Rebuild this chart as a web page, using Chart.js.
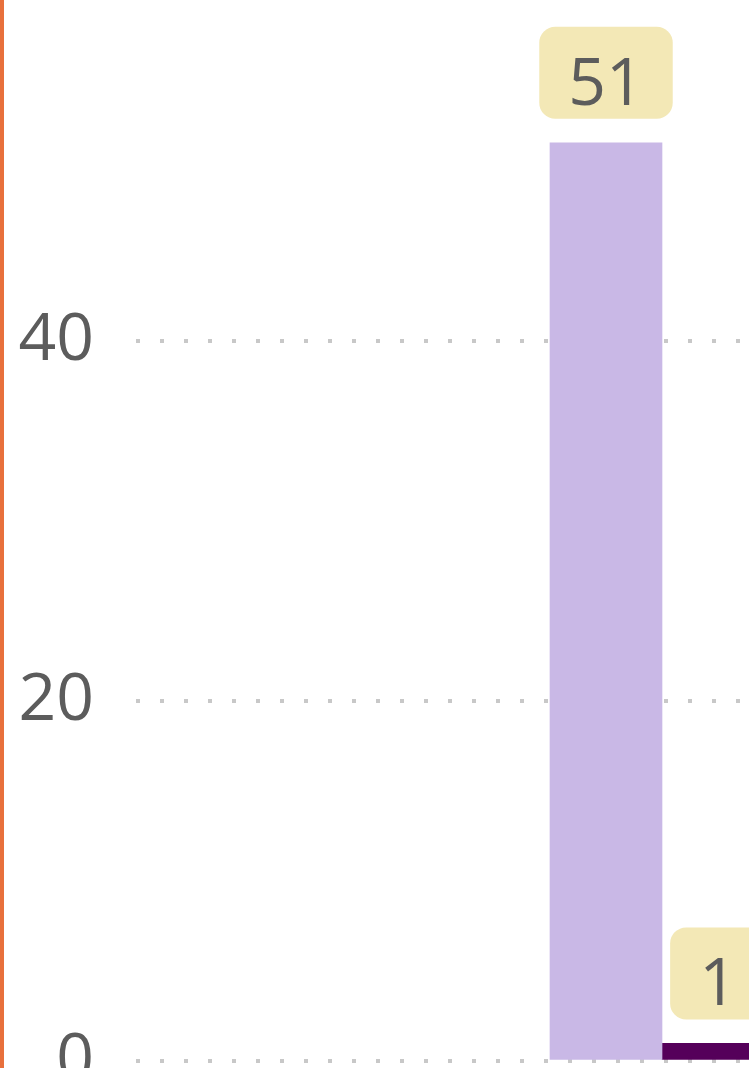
<!DOCTYPE html>
<html>
<head>
<meta charset="utf-8">
<script src="https://cdn.jsdelivr.net/npm/chart.js@4"></script>
<style>
  html, body { margin: 0; padding: 0; background: #fff; overflow: hidden; width: 749px; height: 1068px; }
  .edge { position: absolute; left: 0; top: 0; width: 4px; height: 1068px; background: #E8703C; z-index: 2; }
  .wrap { position: absolute; left: 0; top: -101px; width: 1188px; height: 1244px; }
</style>
</head>
<body>
<div class="edge"></div>
<div class="wrap"><canvas id="countChart"></canvas></div>
<script>
  const categories = [''];
  const seriesNames = ['A', 'B'];
  const seriesA = [51];
  const seriesB = [1];
  const seriesColors = ['#C9B8E6', '#55005A'];
  const yTicks = [0, 20, 40];

  const textColor = '#5c5c5c';
  const fontFamily = '"Open Sans", "Noto Sans", sans-serif';

  // value badges above each bar
  const valueBadges = {
    id: 'valueBadges',
    afterDatasetsDraw(chart) {
      const ctx = chart.ctx;
      ctx.save();
      ctx.font = '66px ' + fontFamily;
      chart.data.datasets.forEach((ds, di) => {
        const meta = chart.getDatasetMeta(di);
        meta.data.forEach((bar, i) => {
          const text = String(ds.data[i]);
          const w = ctx.measureText(text).width + 58;
          const h = 92;
          const bottom = bar.y - 24;
          ctx.fillStyle = '#F3E8B6';
          ctx.beginPath();
          ctx.roundRect(bar.x - w / 2, bottom - h, w, h, 16);
          ctx.fill();
          ctx.fillStyle = textColor;
          ctx.textAlign = 'center';
          ctx.textBaseline = 'alphabetic';
          ctx.fillText(text, bar.x, bottom - 14);
        });
      });
      ctx.restore();
    }
  };

  new Chart(document.getElementById('countChart'), {
    type: 'bar',
    data: {
      labels: categories,
      datasets: [
        { label: seriesNames[0], data: seriesA, backgroundColor: seriesColors[0], borderWidth: 0, barThickness: 112 },
        { label: seriesNames[1], data: seriesB, backgroundColor: seriesColors[1], borderWidth: 0, barThickness: 112 },
      ],
    },
    options: {
      responsive: true,
      maintainAspectRatio: false,
      animation: false,
      layout: { padding: { top: 0, right: 0, bottom: 50, left: 0 } },
      plugins: { legend: { display: false }, tooltip: { enabled: false } },
      scales: {
        x: { display: false },
        y: {
          min: 0,
          max: 60,
          afterFit(scale) { scale.width = 136; },
          afterBuildTicks(scale) { scale.ticks = [...yTicks, 60].map(v => ({ value: v })); },
          border: { display: false, dash: [4, 20] },
          grid: { color: '#c8c8c8', lineWidth: 4, drawTicks: false },
          ticks: {
            padding: 42,
            color: textColor,
            font: { family: fontFamily, size: 66 },
            callback: v => (yTicks.includes(v) ? String(v) : null),
          },
        },
      },
    },
    plugins: [valueBadges],
  });
</script>
</body>
</html>
